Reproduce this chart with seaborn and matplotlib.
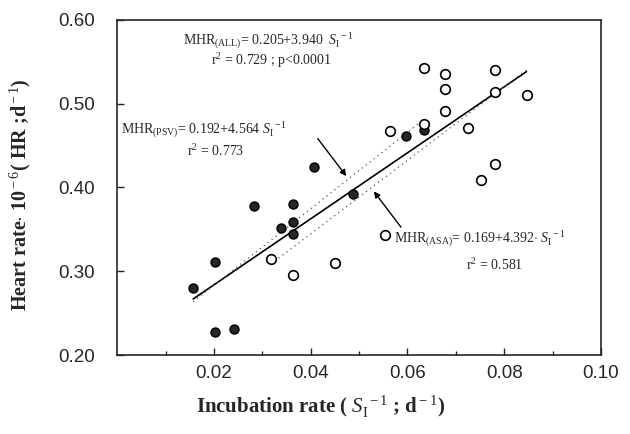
import numpy as np
import pandas as pd
import matplotlib
matplotlib.use("Agg")
import matplotlib.pyplot as plt
import seaborn as sns

# incubation rate (1/S_I, d-1) and heart rate (10^-6 HR d-1)
psv_x = [0.0157, 0.0202, 0.0203, 0.0242, 0.0282, 0.0338, 0.0363, 0.0363, 0.0363,
         0.0406, 0.0487, 0.0597, 0.0634]
psv_y = [0.280, 0.311, 0.227, 0.2315, 0.378, 0.352, 0.380, 0.359, 0.345,
         0.424, 0.392, 0.461, 0.469]
asa_x = [0.0317, 0.0363, 0.0450, 0.0554, 0.0564, 0.0634, 0.0634, 0.0678, 0.0678,
         0.0678, 0.0725, 0.0752, 0.0781, 0.0781, 0.0781, 0.0846]
asa_y = [0.315, 0.295, 0.310, 0.343, 0.468, 0.476, 0.543, 0.536, 0.518,
         0.491, 0.471, 0.409, 0.540, 0.514, 0.428, 0.511]

# regression coefficients (intercept, slope)
fit_all = (0.205, 3.940)
fit_psv = (0.192, 4.564)
fit_asa = (0.169, 4.392)

x_ticks = [0.02, 0.04, 0.06, 0.08, 0.10]
y_ticks = [0.20, 0.30, 0.40, 0.50, 0.60]

df = pd.DataFrame({
    "rate": psv_x + asa_x,
    "hr": psv_y + asa_y,
    "group": ["PSV"] * len(psv_x) + ["ASA"] * len(asa_x),
})

sns.set_style("ticks")
plt.rcParams["font.family"] = ["Liberation Serif", "DejaVu Serif"]
plt.rcParams["mathtext.fontset"] = "custom"
plt.rcParams["mathtext.rm"] = "Liberation Serif"
plt.rcParams["mathtext.it"] = "Liberation Serif:italic"
plt.rcParams["mathtext.bf"] = "Liberation Serif:bold"

fig = plt.figure(figsize=(6.3, 4.34), dpi=100)
ax = fig.add_axes([0.186, 0.182, 0.768, 0.772])

sns.scatterplot(data=df[df.group == "PSV"], x="rate", y="hr", ax=ax, s=42,
                color="#262626", edgecolor="black", linewidth=1.0, legend=False, zorder=3)
sns.scatterplot(data=df[df.group == "ASA"], x="rate", y="hr", ax=ax, s=48,
                color="white", edgecolor="black", linewidth=1.2, legend=False, zorder=3)

xa = np.array([df.rate.min(), df.rate.max()])
ax.plot(xa, fit_all[0] + fit_all[1] * xa, color="black", lw=1.2, zorder=2)
xp = np.array([min(psv_x), max(psv_x)])
ax.plot(xp, fit_psv[0] + fit_psv[1] * xp, color="#555555", lw=0.9, ls=(0, (1, 3)), zorder=2)
xs = np.array([min(asa_x), max(asa_x)])
ax.plot(xs, fit_asa[0] + fit_asa[1] * xs, color="#555555", lw=0.9, ls=(0, (1, 3)), zorder=2)

fs = 10
ax.text(0.0312, 0.575, r"MHR$_{\rm (ALL)}$= 0.205+3.940  $S_{\rm I}^{\ -1}$",
        ha="center", va="center", fontsize=fs)
ax.text(0.0318, 0.551, r"r$^2$ = 0.729 ; p<0.0001", ha="center", va="center", fontsize=fs)
ax.text(0.0008, 0.469, r"MHR$_{\rm (PSV)}$= 0.192+4.564 $S_{\rm I}^{\ -1}$",
        ha="left", va="center", fontsize=fs)
ax.text(0.0204, 0.443, r"r$^2$ = 0.773", ha="center", va="center", fontsize=fs)
ax.text(0.0573, 0.338, r"MHR$_{\rm (ASA)}$= 0.169+4.392$\cdot$ $S_{\rm I}^{\ -1}$",
        ha="left", va="center", fontsize=fs)
ax.text(0.0781, 0.307, r"r$^2$ = 0.581", ha="center", va="center", fontsize=fs)

ax.annotate("", xy=(0.0477, 0.411), xytext=(0.0411, 0.461),
            arrowprops=dict(arrowstyle="-|>", color="black", lw=1.0, mutation_scale=9))
ax.annotate("", xy=(0.0527, 0.398), xytext=(0.0590, 0.350),
            arrowprops=dict(arrowstyle="-|>", color="black", lw=1.0, mutation_scale=9))

ax.set_xlim(0, 0.10)
ax.set_ylim(0.20, 0.60)
ax.set_xticks(x_ticks)
ax.set_xticklabels([f"{v:.2f}" for v in x_ticks])
ax.set_yticks(y_ticks)
ax.set_yticklabels([f"{v:.2f}" for v in y_ticks])
ax.set_xticks(np.arange(0.01, 0.10, 0.02), minor=True)
ax.tick_params(which="both", direction="in", top=False, right=False)
ax.tick_params(which="major", length=5, width=1, labelsize=13.5)
ax.tick_params(axis="x", which="major", pad=7)
ax.tick_params(axis="y", which="major", pad=16)
ax.tick_params(which="minor", length=3, width=1)
for lab in ax.get_xticklabels() + ax.get_yticklabels():
    lab.set_family(["Liberation Sans", "DejaVu Sans"])
for sp in ax.spines.values():
    sp.set_visible(True)
    sp.set_linewidth(1.2)

ax.set_xlabel(r"Incubation rate ( $S_{\rm I}^{\ -1}$ ; d$^{\rm -1}$)", fontsize=15,
              fontweight="bold")
ax.xaxis.set_label_coords(0.42, -0.115)
ax.set_ylabel(r"Heart rate$\cdot$ 10$^{\rm -6}$( HR ;d$^{\rm -1}$)", fontsize=14.5,
              fontweight="bold")
ax.yaxis.set_label_coords(-0.175, 0.48)

fig.savefig("out.png", dpi=100)
